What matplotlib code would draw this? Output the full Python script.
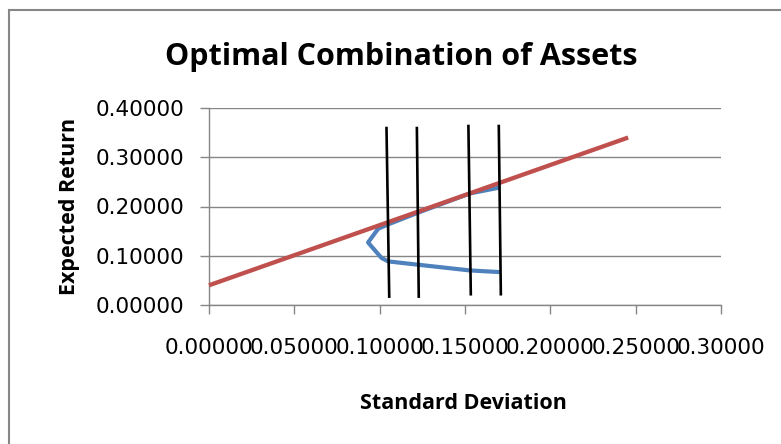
import matplotlib
matplotlib.use("Agg")
import matplotlib.pyplot as plt
from matplotlib.patches import Rectangle

# Data
frontier_sd = [0.1704, 0.1528, 0.1225, 0.1049, 0.0991, 0.0932, 0.1011, 0.1049, 0.1225, 0.1528, 0.1704]
frontier_ret = [0.2386, 0.2264, 0.1875, 0.1636, 0.1548, 0.1270, 0.0955, 0.0886, 0.0818, 0.0702, 0.0668]
cal_sd = [0.0, 0.2456]
cal_ret = [0.04, 0.34]
vline_x_top = [0.1040, 0.1218, 0.1520, 0.1698]
vline_x_bottom = [0.1056, 0.1229, 0.1534, 0.1710]
vline_y_top = [0.3593, 0.3593, 0.3634, 0.3634]
vline_y_bottom = [0.0170, 0.0170, 0.0219, 0.0219]
x_ticks = [0.0, 0.05, 0.10, 0.15, 0.20, 0.25, 0.30]
y_ticks = [0.0, 0.10, 0.20, 0.30, 0.40]

W, H = 781, 444
fig = plt.figure(figsize=(W / 100, H / 100), dpi=100)
ax = fig.add_axes([209 / W, 1 - 305 / H, (721 - 209) / W, (305 - 108) / H])

ax.plot(frontier_sd, frontier_ret, color="#4F81BD", lw=3, solid_joinstyle="round", solid_capstyle="butt", zorder=3)
ax.plot(cal_sd, cal_ret, color="#C0504D", lw=3.1, solid_capstyle="butt", zorder=4, clip_on=False)
for xt, xb, yt, yb in zip(vline_x_top, vline_x_bottom, vline_y_top, vline_y_bottom):
    ax.plot([xb, xt], [yb, yt], color="black", lw=1.9, zorder=5)

ax.set_xlim(0, 0.3)
ax.set_ylim(0, 0.4)
ax.set_xticks(x_ticks)
ax.set_yticks(y_ticks)
ax.set_xticklabels([f"{v:.5f}" for v in x_ticks])
ax.set_yticklabels([f"{v:.5f}" for v in y_ticks])
ax.tick_params(axis="both", colors="#868686", labelcolor="black", labelsize=15.5, length=6.5, width=1)
ax.tick_params(axis="x", pad=17)
ax.tick_params(axis="y", pad=11)
for lab in ax.get_xticklabels() + ax.get_yticklabels():
    lab.set_family("DejaVu Sans")
ax.grid(axis="y", color="#868686", lw=1)
ax.set_axisbelow(True)
for s in ["top", "right"]:
    ax.spines[s].set_visible(False)
for s in ["left", "bottom"]:
    ax.spines[s].set_color("#868686")
    ax.spines[s].set_linewidth(1)

fig.text(401 / W, 1 - 65 / H, "Optimal Combination of Assets", ha="center", va="baseline",
         fontsize=22, fontweight="bold", family="Open Sans")
fig.text(463 / W, 1 - 409 / H, "Standard Deviation", ha="center", va="baseline",
         fontsize=15.5, fontweight="bold", family="Open Sans")
fig.text(70 / W, 1 - 206 / H, "Expected Return", ha="center", va="center", rotation=90,
         fontsize=15.5, fontweight="bold", family="Open Sans")

fig.patches.append(Rectangle((8.5 / W, -0.1), 1.2, 1 - 10.5 / H + 0.1, transform=fig.transFigure,
                             fill=False, edgecolor="#868686", lw=1.5))

fig.savefig("out.png", dpi=100)
